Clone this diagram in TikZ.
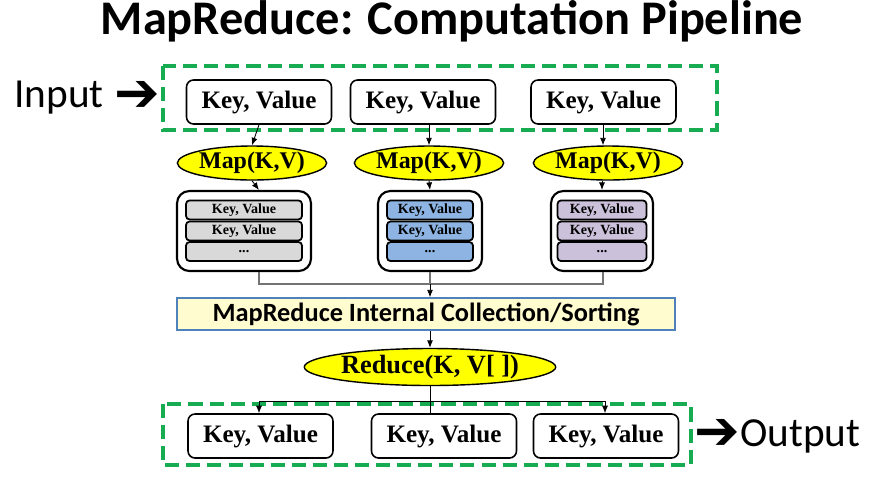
\documentclass[tikz,border=0pt]{standalone}
\usepackage{fontspec}
\setmainfont{Liberation Serif}
\newfontfamily\calibri{Carlito}
\newfontfamily\symfont{DejaVu Sans}
\usepackage{xcolor}
\definecolor{mrgreen}{RGB}{24,172,82}
\definecolor{mryellow}{RGB}{255,255,0}
\definecolor{mrgray}{RGB}{217,217,217}
\definecolor{mrblue}{RGB}{141,180,226}
\definecolor{mrpurple}{RGB}{204,193,218}
\definecolor{mrcream}{RGB}{255,252,208}
\definecolor{mrborder}{RGB}{79,129,189}
\usetikzlibrary{arrows.meta,positioning,shapes.geometric}
\tikzset{
  kv box/.style={draw, rounded corners=4pt, line width=0.9pt, fill=white, minimum width=2.9cm, minimum height=0.88cm, inner sep=0pt, font=\fontsize{14.3}{16}\selectfont\bfseries},
  map ellipse/.style={draw, ellipse, fill=mryellow, line width=0.8pt, minimum width=2.66cm, minimum height=0.68cm, inner sep=0pt, font=\fontsize{13.6}{15}\selectfont\bfseries},
  group box/.style={draw, rounded corners=7pt, line width=1.2pt, fill=white, minimum height=1.6cm, inner sep=0pt},
  kv strip/.style={draw, rounded corners=2pt, line width=1pt, minimum height=0.38cm, inner sep=0pt, font=\fontsize{8}{9}\selectfont\bfseries},
  flow edge/.style={-{Latex[length=1.5mm,width=1.2mm]}, line width=0.5pt},
  gather line/.style={draw=black!55, line width=0.6pt},
  io frame/.style={draw=mrgreen, dash pattern=on 8pt off 4pt, line width=2.3pt},
  io label/.style={font=\calibri\fontsize{23.5}{26}\selectfont, inner sep=0pt},
  io arrow/.style={font=\symfont\fontsize{31}{33}\selectfont, inner sep=0pt},
}

\begin{document}
\begin{tikzpicture}[x=0.02cm, y=-0.02cm]
  \fill[white] (0,0) rectangle (889,495);
  \useasboundingbox (0,0) rectangle (889,495);

  % title
  \node[font=\calibri\bfseries\fontsize{27.5}{31}\selectfont, inner sep=0pt] (title) at (452,21) {MapReduce: Computation Pipeline};

  % input side
  \node[io label, anchor=west] (inlbl) at (14,98) {Input};
  \node[io arrow] (inarr) at (137,96) {➔};
  \draw[io frame] (163,66) rectangle (717,130);
  \node[kv box] (kin1) at (259,102) {Key, Value};
  \node[kv box] (kin2) at (423,102) {Key, Value};
  \node[kv box] (kin3) at (603.5,102) {Key, Value};

  % map step
  \node[map ellipse] (map1) at (252,163) {Map(K,V)};
  \node[map ellipse] (map2) at (429,163) {Map(K,V)};
  \node[map ellipse] (map3) at (608,163) {Map(K,V)};
  \coordinate (jL) at (259,284);
  \coordinate (jM) at (430,284);
  \coordinate (jR) at (603,284);
  \draw[flow edge] (kin1.south) -- (map1.north);
  \draw[flow edge] (kin2.south -| map2.north) -- (map2.north);
  \draw[flow edge] (kin3.south -| jR) -- (map3.north -| jR);

  % intermediate key/value lists
  \node[group box, minimum width=2.68cm] (grp1) at (244,231) {};
  \node[group box, minimum width=2.08cm] (grp2) at (430,231) {};
  \node[group box, minimum width=2.04cm] (grp3) at (602,231) {};
  \foreach \g/\c/\w in {grp1/mrgray/2.32cm, grp2/mrblue/1.72cm, grp3/mrpurple/1.78cm}{
    \node[kv strip, fill=\c, minimum width=\w] (\g a) at ([yshift=-0.4cm]\g.north) {Key, Value};
    \node[kv strip, fill=\c, minimum width=\w] (\g b) at (\g.center) {Key, Value};
    \node[kv strip, fill=\c, minimum width=\w] (\g c) at ([yshift=0.41cm]\g.south) {...};
  }
  \draw[flow edge] (map1.south) -- (grp1.north -| jL);
  \draw[flow edge] (map2.south) -- (grp2.north);
  \draw[flow edge] (map3.south -| grp3.north) -- (grp3.north);

  % collection / sorting
  \node[draw=mrborder, fill=mrcream, line width=0.8pt, minimum width=9.96cm, minimum height=0.64cm, inner sep=0pt, font=\calibri\bfseries\fontsize{15}{17}\selectfont] (sortbox) at (426,314) {MapReduce Internal Collection/Sorting};
  \draw[gather line] (grp1.south -| jL) -- (jL) -- (jR) -- (grp3.south -| jR);
  \draw[gather line] (grp2.south) -- (jM);
  \draw[flow edge] (jM) -- (jM |- sortbox.north);

  % reduce step
  \node[map ellipse, minimum width=4.24cm, minimum height=0.74cm, font=\fontsize{15}{17}\selectfont\bfseries] (reduce) at (430,367) {Reduce(K, V[ ])};
  \draw[flow edge] (sortbox.south -| reduce.north) -- (reduce.north);

  % output side
  \draw[io frame] (163,404) rectangle (691,465);
  \node[kv box] (kout1) at (260.5,436) {Key, Value};
  \node[kv box] (kout2) at (444,436) {Key, Value};
  \node[kv box] (kout3) at (606,436) {Key, Value};
  \coordinate (sL) at (259,401);
  \coordinate (sR) at (605,401);
  \draw (reduce.south) -- (reduce.south |- kout2.north);
  \draw (sL) -- (sR);
  \draw[flow edge] (sL) -- (sL |- kout1.north);
  \draw[flow edge] (sR) -- (sR |- kout3.north);
  \node[io arrow] (outarr) at (717,434) {➔};
  \node[io label, anchor=west] (outlbl) at (740,436) {Output};
\end{tikzpicture}
\end{document}
